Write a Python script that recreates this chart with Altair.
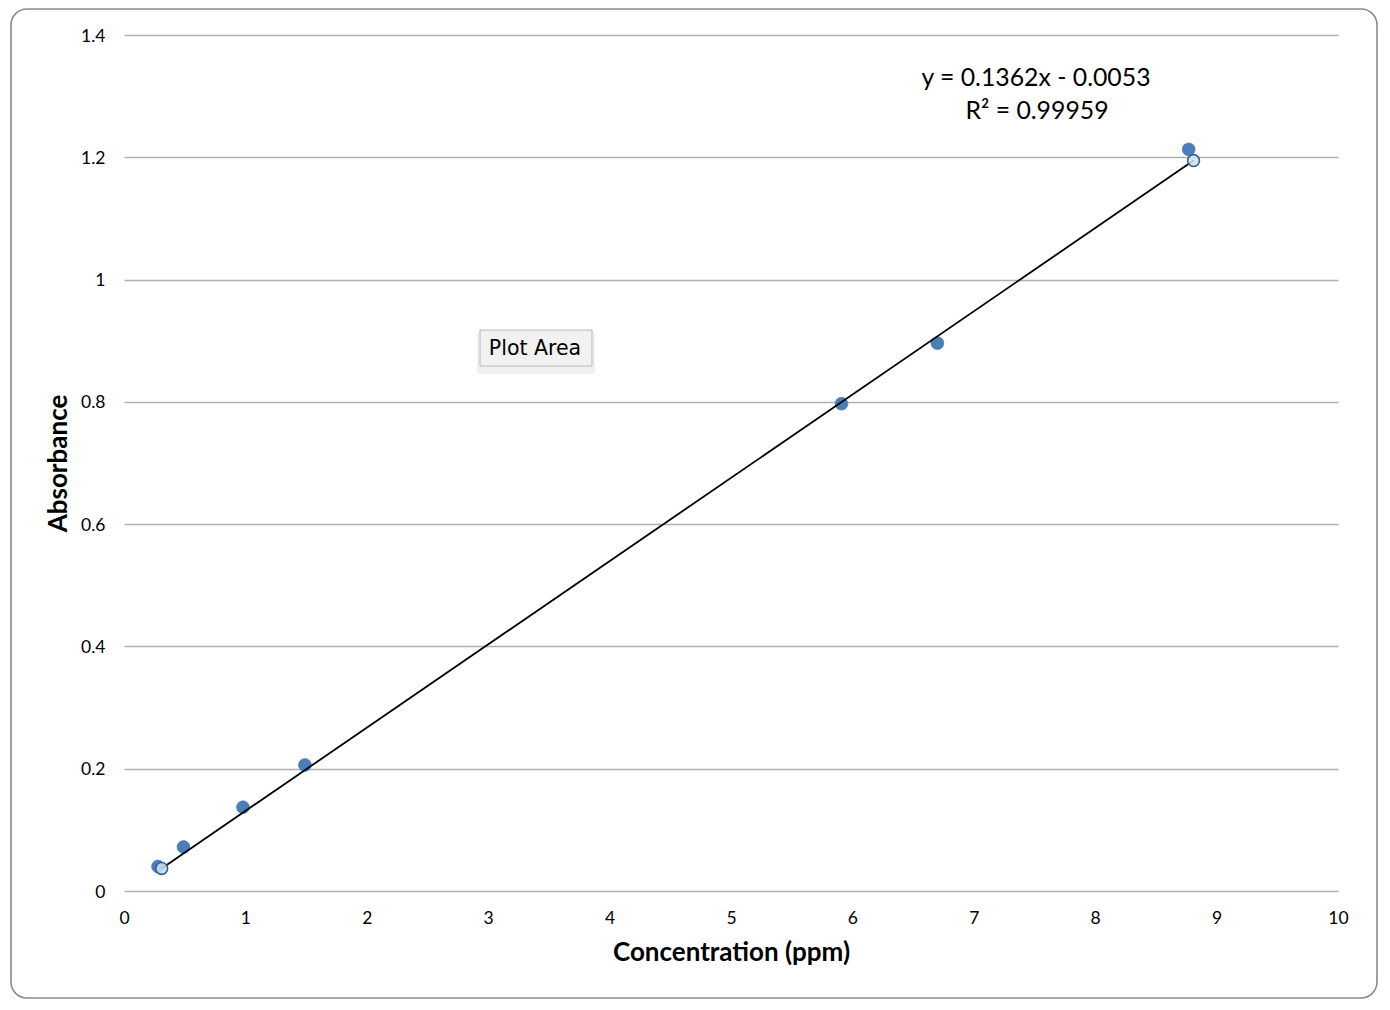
import altair as alt
import pandas as pd

conc = [0.28, 0.49, 0.98, 1.49, 5.91, 6.70, 8.77]
absorb = [0.040, 0.072, 0.137, 0.206, 0.797, 0.896, 1.213]

# Linear trendline as reported on the chart
slope = 0.1362
intercept = -0.0053
trend_x = [0.31, 8.81]
trend_y = [slope * v + intercept for v in trend_x]

eq_lines = ["y = 0.1362x - 0.0053", "R² = 0.99959"]
x_ticks = list(range(0, 11))
y_ticks = [0, 0.2, 0.4, 0.6, 0.8, 1.0, 1.2, 1.4]

FONT = "Lato"
W, H = 1214, 856

pts = pd.DataFrame({"x": conc, "y": absorb})
trend = pd.DataFrame({"x": trend_x, "y": trend_y})
one = pd.DataFrame({"a": [0]})

xs = alt.Scale(domain=[0, 10], nice=False, zero=False)
ys = alt.Scale(domain=[0, 1.4], nice=False, zero=False)

frame = alt.Chart(one).mark_rect(
    cornerRadius=16, fill="transparent", stroke="#8a8a8a", strokeWidth=1.6
).encode(
    x=alt.value(-113), x2=alt.value(1253), y=alt.value(-26), y2=alt.value(963)
)

base_pts = alt.Chart(pts).mark_circle(
    size=165, color="#4a7ebb", opacity=1, stroke="#4172b0", strokeWidth=0.6
).encode(
    x=alt.X("x:Q", scale=xs, axis=alt.Axis(
        values=x_ticks, format="~g", grid=False, domain=False, ticks=False, tickSize=0,
        labelFlush=False,
        labelFontSize=17.5, labelPadding=18, labelColor="black", labelFont=FONT,
        title="Concentration (ppm)", titleFont=FONT, titleFontSize=26,
        titleFontWeight="bold", titleColor="black", titleBaseline="alphabetic",
        titleY=69)),
    y=alt.Y("y:Q", scale=ys, axis=alt.Axis(
        values=y_ticks, format="~g", grid=True, gridColor="#b0b0b0", gridWidth=1.3,
        domain=False, ticks=False, tickSize=0, labelFlush=False, labelOffset=1,
        labelFontSize=17.5, labelPadding=19, labelColor="black", labelFont=FONT,
        title="Absorbance", titleFont=FONT, titleFontSize=26,
        titleFontWeight="bold", titleColor="black", titleBaseline="alphabetic",
        titleX=-58)),
)

line = alt.Chart(trend).mark_line(color="black", strokeWidth=1.8).encode(
    x=alt.X("x:Q", scale=xs), y=alt.Y("y:Q", scale=ys)
)

handles = alt.Chart(trend).mark_point(
    shape="circle", size=140, filled=True, fill="#cfe2f1", fillOpacity=0.85,
    stroke="#2d6290", strokeWidth=1.6
).encode(x=alt.X("x:Q", scale=xs), y=alt.Y("y:Q", scale=ys))

eq1 = alt.Chart(one).mark_text(
    text=eq_lines[0], font=FONT, fontSize=24.8, color="black",
    align="center", baseline="alphabetic"
).encode(x=alt.value(912), y=alt.value(51))
eq2 = alt.Chart(one).mark_text(
    text=eq_lines[1], font=FONT, fontSize=24.8, color="black",
    align="center", baseline="alphabetic"
).encode(x=alt.value(913), y=alt.value(84))

shadow = alt.Chart(one).mark_rect(fill="#000000", opacity=0.06, cornerRadius=3).encode(
    x=alt.value(353), x2=alt.value(471), y=alt.value(297), y2=alt.value(339)
)
tip = alt.Chart(one).mark_rect(fill="#f1f1f1", stroke="#b8b8b8", strokeWidth=1).encode(
    x=alt.value(356), x2=alt.value(468), y=alt.value(295), y2=alt.value(331)
)
tip_text = alt.Chart(one).mark_text(
    text="Plot Area", font="DejaVu Sans", fontSize=20.5, color="black",
    align="center", baseline="middle"
).encode(x=alt.value(411), y=alt.value(314))

chart = alt.layer(
    frame, base_pts, line, handles, eq1, eq2, shadow, tip, tip_text
).properties(
    width=W, height=H,
    autosize=alt.AutoSizeParams(type="none"),
    padding={"left": 116, "top": 27, "right": 44, "bottom": 112},
).configure_view(stroke=None)

chart.save("out.html", embed_options={"renderer": "svg", "actions": False})
